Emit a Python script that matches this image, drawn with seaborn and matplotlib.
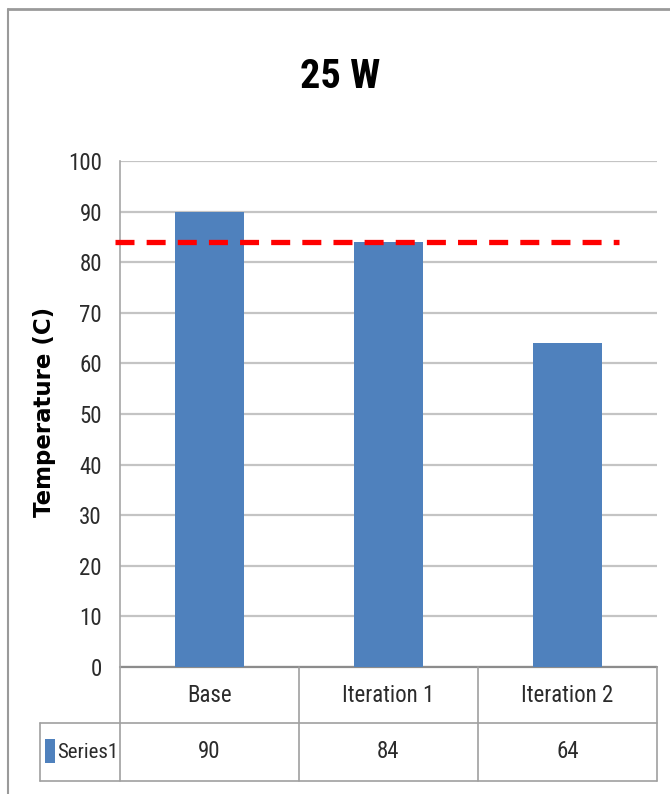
import matplotlib
matplotlib.use("Agg")
import matplotlib.pyplot as plt
from matplotlib import font_manager
from matplotlib.lines import Line2D
from matplotlib.patches import Rectangle
import seaborn as sns
import pandas as pd

# Chart data
categories = ["Base", "Iteration 1", "Iteration 2"]
temperatures = [90, 84, 64]
series_name = "Series1"
threshold = 84
title = "25 W"
y_label = "Temperature (C)"
y_ticks = [0, 10, 20, 30, 40, 50, 60, 70, 80, 90, 100]

sns.set_theme(style="white")
names = {f.name for f in font_manager.fontManager.ttflist}
preferred = ["Roboto Condensed", "Liberation Sans Narrow", "Open Sans Condensed",
             "Liberation Sans"]
base_font = next((p for p in preferred if p in names), "DejaVu Sans")
plt.rcParams["font.family"] = [base_font, "DejaVu Sans"]

BLUE = "#4f81bd"
GRID = "#c4c4c4"
TEXT = "#2b2b2b"
FS = 16.5

W, H = 670, 794
fig = plt.figure(figsize=(W / 100, H / 100), dpi=100)
fig.patch.set_facecolor("white")

left, right, top, bottom = 120, 657, 161, 667
ax = fig.add_axes([left / W, 1 - bottom / H, (right - left) / W, (bottom - top) / H])

df = pd.DataFrame({"category": categories, "temperature": temperatures})
sns.barplot(data=df, x="category", y="temperature", color=BLUE, saturation=1,
            width=0.39, linewidth=0, ax=ax, zorder=3)

ax.set_xlim(-0.5, len(categories) - 0.5)
ax.set_ylim(0, 100)
ax.set_yticks(y_ticks)
ax.set_yticklabels([str(t) for t in y_ticks], fontsize=FS, color=TEXT)
ax.tick_params(axis="y", length=0, pad=13)
ax.set_xticks([])
ax.set_xlabel("")
ax.set_ylabel("")
ax.yaxis.grid(True, color=GRID, linewidth=1.6, zorder=0)
for side in ["top", "right", "bottom"]:
    ax.spines[side].set_visible(False)
ax.spines["left"].set_color("#a6a6a6")
ax.spines["left"].set_linewidth(1.2)

# Red dashed limit line
ax.plot([-0.528, 2.285], [threshold, threshold], color="#ff0000", linewidth=3.8,
        dashes=(3.6, 2.3), solid_capstyle="butt", dash_capstyle="butt",
        clip_on=False, zorder=5)

# Title and axis label
fig.text(0.507, 1 - 77 / H, title, ha="center", va="center", fontsize=29,
         fontweight="bold", color="black")
fig.text(45 / W, 1 - 412 / H, y_label, rotation=90, ha="center", va="center",
         fontsize=16.5, fontweight="bold", color="black",
         family=["DejaVu Sans"])

# Data table under the plot
row_h1 = 56 / (bottom - top)
row_h2 = 58 / (bottom - top)
x0 = -(left - 40) / (right - left)
n = len(categories)
line_kw = dict(color="#a0a0a0", linewidth=1.2, transform=ax.transAxes, clip_on=False)
ax.add_line(Line2D([0, 1], [0, 0], color="#8c8c8c", linewidth=1.6,
                   transform=ax.transAxes, clip_on=False))
ax.add_line(Line2D([x0, 1], [-row_h1, -row_h1], **line_kw))
ax.add_line(Line2D([x0, 1], [-row_h1 - row_h2, -row_h1 - row_h2], **line_kw))
ax.add_line(Line2D([x0, x0], [-row_h1, -row_h1 - row_h2], **line_kw))
for i in range(n + 1):
    ax.add_line(Line2D([i / n, i / n], [0, -row_h1 - row_h2], **line_kw))
for i, (cat, val) in enumerate(zip(categories, temperatures)):
    xc = (i + 0.5) / n
    ax.text(xc, -row_h1 / 2, cat, transform=ax.transAxes, ha="center", va="center",
            fontsize=FS, color=TEXT)
    ax.text(xc, -row_h1 - row_h2 / 2, str(val), transform=ax.transAxes,
            ha="center", va="center", fontsize=FS, color=TEXT)
ax.text(x0 + 17 / (right - left), -row_h1 - row_h2 / 2, series_name,
        transform=ax.transAxes, ha="left", va="center", fontsize=FS - 1.5, color=TEXT)
fig.add_artist(Rectangle((45 / W, 1 - 763 / H), 10 / W, 24 / H, facecolor=BLUE,
                         edgecolor="none", transform=fig.transFigure))

# Chart-area frame
fig.add_artist(Line2D([8 / W, 1], [1 - 9 / H, 1 - 9 / H], color="#9a9a9a",
                      linewidth=2, transform=fig.transFigure))
fig.add_artist(Line2D([8 / W, 8 / W], [0, 1 - 9 / H], color="#9a9a9a",
                      linewidth=1.5, transform=fig.transFigure))

fig.savefig("out.png", dpi=100)
